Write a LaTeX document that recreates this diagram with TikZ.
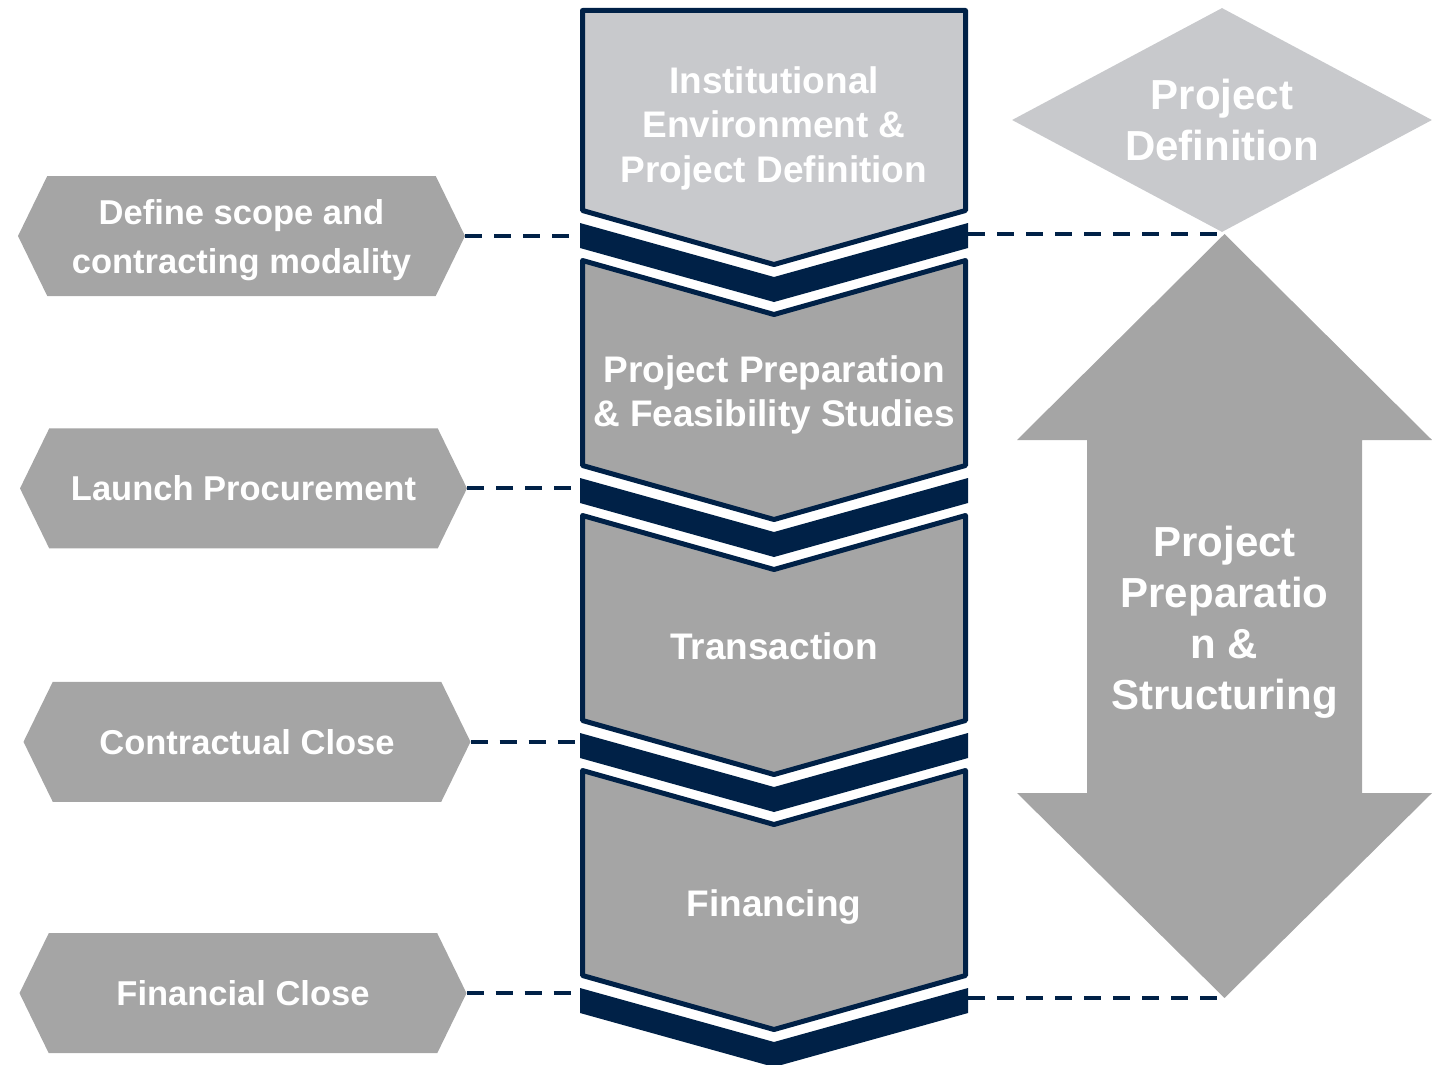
\documentclass[tikz,border=0pt]{standalone}
\usepackage{fontspec}
\setmainfont{Liberation Sans}
\usetikzlibrary{positioning,shapes.geometric,shapes.symbols}

\definecolor{navy}{RGB}{0,33,71}
\definecolor{lightgrey}{RGB}{200,201,204}
\definecolor{midgrey}{RGB}{165,165,165}

\begin{document}
\begin{tikzpicture}[x=1pt,y=-1pt,
    tag/.style={signal, signal to=west and east, signal pointer angle=128,
        fill=midgrey, text=white, inner sep=0pt, align=center, text depth=0pt,
        minimum width=447pt, minimum height=120pt,
        font=\fontsize{34.5}{49}\selectfont\bfseries},
    phase/.style={text=white, align=center, text depth=0pt,
        font=\fontsize{37}{44.5}\selectfont\bfseries},
    big/.style={text=white, align=center, text depth=0pt,
        font=\fontsize{42}{51}\selectfont\bfseries},
    chev/.style={draw=navy, line width=5pt, line join=round},
    band/.style={fill=navy},
    link/.style={draw=navy, line width=4pt, dash pattern=on 17pt off 12pt}]
    \useasboundingbox (0,0) rectangle (1432,1065);

    % edges of the central column
    \coordinate (colL) at (580,0);
    \coordinate (colR) at (968,0);

    % milestones on the left
    \node[tag] (scope) at (241.5,236) {Define scope and\\contracting modality};
    \node[tag, below=132pt of scope, xshift=2pt] (launch) {Launch Procurement};
    \node[tag, below=133pt of launch, xshift=3.5pt] (contract) {Contractual Close};
    \node[tag, below=131pt of contract, xshift=-4pt] (finclose) {Financial Close};

    % stages on the right
    \node[diamond, fill=lightgrey, aspect=1.875, minimum width=420pt, minimum height=224pt,
        inner sep=0pt, big] (defn) at (1222,120) {Project\\Definition};
    \fill[midgrey] (1224.5,234) coordinate (tipN) -- (1432,440) -- (1362,440)
        -- (1362,793) -- (1432,793) -- (1224.5,998) coordinate (tipS)
        -- (1017,793) -- (1087,793) -- (1087,440) -- (1017,440) -- cycle;
    \node[big] (struct) at (1224.5,618) {Project\\Preparatio\\n \&\\Structuring};

    % dashed guides
    \draw[link] (scope.east) -- (scope.east -| colL);
    \draw[link] (launch.east) -- (launch.east -| colL);
    \draw[link] (contract.east) -- (contract.east -| colL);
    \draw[link] (finclose.east) -- (finclose.east -| colL);
    \draw[link] (colR |- tipN) -- (tipN);
    \draw[link] (colR |- tipS) -- (tipS);

    % chevron column
    \filldraw[chev, fill=lightgrey] (582.5,10.5) -- (965.5,10.5) -- (965.5,210.5)
        -- (774,264.5) -- (582.5,210.5) -- cycle;
    \fill[band] (580,223) -- (774,277) -- (968,223) -- (968,248) -- (774,302) -- (580,248) -- cycle;
    \filldraw[chev, fill=midgrey] (582.5,260.5) -- (774,314.5) -- (965.5,260.5) -- (965.5,465.5)
        -- (774,519.5) -- (582.5,465.5) -- cycle;
    \fill[band] (580,478) -- (774,532) -- (968,478) -- (968,503) -- (774,557) -- (580,503) -- cycle;
    \filldraw[chev, fill=midgrey] (582.5,515.5) -- (774,569.5) -- (965.5,515.5) -- (965.5,720.5)
        -- (774,774.5) -- (582.5,720.5) -- cycle;
    \fill[band] (580,733) -- (774,787) -- (968,733) -- (968,758) -- (774,812) -- (580,758) -- cycle;
    \filldraw[chev, fill=midgrey] (582.5,770.5) -- (774,824.5) -- (965.5,770.5) -- (965.5,975.5)
        -- (774,1029.5) -- (582.5,975.5) -- cycle;
    \fill[band] (580,988) -- (774,1042) -- (968,988) -- (968,1013) -- (774,1067) -- (580,1013) -- cycle;

    \node[phase] (inst) at (774,124.5) {Institutional\\Environment \&\\Project Definition};
    \node[phase] (prep) at (774,391) {Project Preparation\\\& Feasibility Studies};
    \node[phase] (trans) at (774,646) {Transaction};
    \node[phase] (fin) at (774,903) {Financing};
\end{tikzpicture}
\end{document}
